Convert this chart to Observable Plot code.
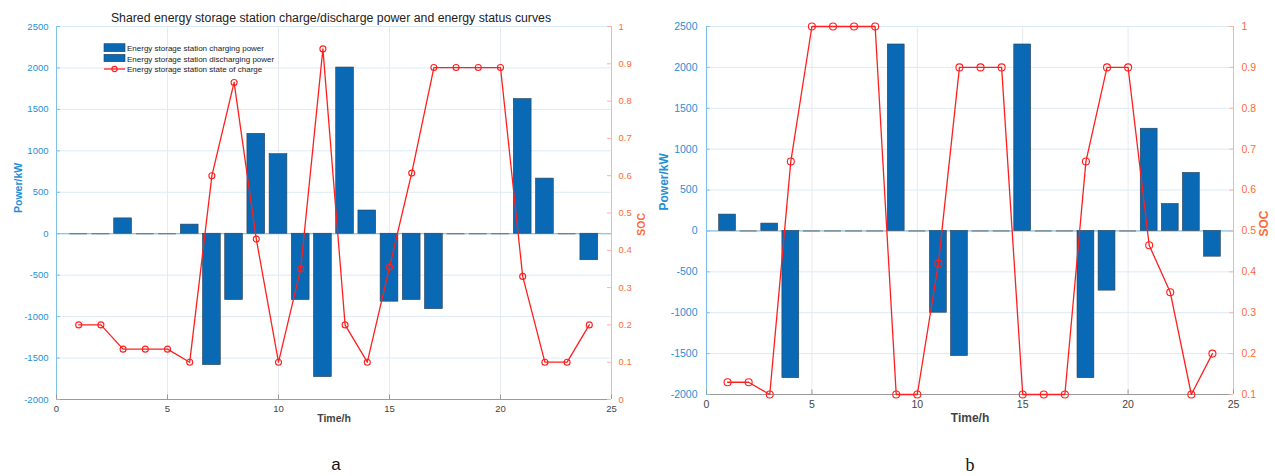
<!DOCTYPE html>
<html><head><meta charset="utf-8">
<script src="https://cdn.jsdelivr.net/npm/d3@7"></script>
<script src="https://cdn.jsdelivr.net/npm/@observablehq/plot@0.6"></script>
<style>
body{margin:0;background:#fff;font-family:"Liberation Sans",Arial,sans-serif;}
#wrap{position:relative;width:1275px;height:476px;overflow:hidden;background:#fff;}
.abs{position:absolute;white-space:nowrap;}
</style></head><body><div id="wrap"></div>
<script>
// ---------- data ----------
const hours = [1,2,3,4,5,6,7,8,9,10,11,12,13,14,15,16,17,18,19,20,21,22,23,24];
const powerA = [0,0,185,0,0,110,-1585,-800,1205,960,-800,-1730,2005,280,-820,-800,-910,0,0,0,1625,665,0,-320];
const socA = [0.2,0.2,0.135,0.135,0.135,0.1,0.6,0.85,0.43,0.1,0.35,0.94,0.2,0.1,0.355,0.607,0.89,0.89,0.89,0.89,0.33,0.1,0.1,0.2];
const powerB = [200,0,90,-1800,0,0,0,0,2280,0,-1000,-1530,0,0,2280,0,0,-1800,-730,0,1250,330,710,-315];
const socB = [0.13,0.13,0.1,0.67,1,1,1,1,0.1,0.1,0.42,0.9,0.9,0.9,0.1,0.1,0.1,0.67,0.9,0.9,0.465,0.35,0.1,0.2];
const xTicks = [0,5,10,15,20,25];
const powerTicks = [-2000,-1500,-1000,-500,0,500,1000,1500,2000,2500];
const socTicksA = [0,0.1,0.2,0.3,0.4,0.5,0.6,0.7,0.8,0.9,1];
const socTicksB = [0.1,0.2,0.3,0.4,0.5,0.6,0.7,0.8,0.9,1];
const titleA = "Shared energy storage station charge/discharge power and energy status curves";
const legendLabels = ["Energy storage station charging power","Energy storage station discharging power","Energy storage station state of charge"];
const xLabel = "Time/h", yLabel = "Power/kW", y2Label = "SOC";

// ---------- style ----------
const BAR = "#0a69b4", EDGE = "#2e3f52", RED = "#ff1f1f";
const BLUE = "#1f8fd6", ORANGE = "#ff6a3a", GRAY = "#444";

function panel(o) {
  const [s0, s1] = o.socDomain;
  const toP = s => -2000 + (s - s0) / (s1 - s0) * 4500;
  const toS = p => s0 + (p + 2000) / 4500 * (s1 - s0);
  const bars = hours.map((h, i) => ({h, p: o.power[i]}));
  const socd = hours.map((h, i) => ({h, s: o.soc[i]}));
  const fmt = v => String(Math.round(toS(v) * 10) / 10);
  return Plot.plot({
    width: o.width, height: o.height,
    marginLeft: o.ml, marginRight: o.mr, marginTop: o.mt, marginBottom: o.mb,
    style: {fontFamily: '"Liberation Sans", Arial, sans-serif', fontSize: o.fs + "px", background: "transparent"},
    x: {domain: [0, 25]},
    y: {domain: [-2000, 2500]},
    marks: [
      Plot.gridY(powerTicks, {stroke: "#dbeaf8", strokeOpacity: 1}),
      Plot.gridX(xTicks, {stroke: "#e5eaf0", strokeOpacity: 1}),
      Plot.ruleY([0], {stroke: "#74b9e6", strokeWidth: 1}),
      Plot.rectY(bars.filter(d => d.p !== 0), {x1: d => d.h - 0.4, x2: d => d.h + 0.4, y1: 0, y2: "p", fill: BAR, stroke: EDGE, strokeWidth: 0.6}),
      Plot.ruleY(bars.filter(d => d.p === 0), {y: "p", x1: d => d.h - 0.4, x2: d => d.h + 0.4, stroke: "#707070", strokeWidth: 1.1}),
      Plot.ruleX([0], {stroke: "#7ec0ec", strokeWidth: 1}),
      Plot.ruleX([25], {stroke: "#ffb39b", strokeWidth: 1}),
      Plot.ruleY([-2000], {stroke: "#9a9a9a", strokeWidth: 1}),
      Plot.ruleY(powerTicks, {x1: 0, x2: 0.18, stroke: "#7ec0ec"}),
      Plot.ruleY(o.socTicks.map(toP), {x1: 24.82, x2: 25, stroke: "#ffb39b"}),
      Plot.ruleX(xTicks, {y1: -2000, y2: -1945, stroke: "#9a9a9a"}),
      Plot.line(socd, {x: "h", y: d => toP(d.s), stroke: RED, strokeWidth: 1.3}),
      Plot.dot(socd, {x: "h", y: d => toP(d.s), r: o.r, stroke: RED, fill: "none", strokeWidth: 1.1}),
      Plot.axisY({ticks: powerTicks, tickSize: 0, tickPadding: o.tpL, tickFormat: d => String(d), color: BLUE, label: null, fontSize: o.fs}),
      Plot.axisY({anchor: "right", ticks: o.socTicks.map(toP), tickSize: 0, tickPadding: o.tpR, tickFormat: fmt, color: ORANGE, label: null, fontSize: o.fs}),
      Plot.axisX({ticks: xTicks, tickSize: 0, tickPadding: o.tpX, tickFormat: d => String(d), color: GRAY, label: null, fontSize: o.fs}),
      Plot.text([yLabel], {text: d => d, frameAnchor: "left", dx: o.yLabDx, rotate: -90, fill: BLUE, fontSize: o.fsL, fontWeight: "bold"}),
      Plot.text([y2Label], {text: d => d, frameAnchor: "right", dx: o.y2LabDx, rotate: -90, fill: ORANGE, fontSize: o.fsL, fontWeight: "bold"}),
      Plot.text([xLabel], {text: d => d, frameAnchor: "bottom", dy: o.xLabDy, fill: GRAY, fontSize: o.fsL, fontWeight: "bold"})
    ]
  });
}

const wrap = document.getElementById("wrap");
const svgA = panel({power: powerA, soc: socA, socDomain: [0, 1], socTicks: socTicksA,
  width: 650, height: 440, ml: 56, mr: 39, mt: 26, mb: 41, fs: 9.5, fsL: 10.5, r: 3,
  tpL: 8, tpR: 7, tpX: 6, yLabDx: -38, y2LabDx: 30, xLabDy: 22});
svgA.style.position = "absolute"; svgA.style.left = "0px"; svgA.style.top = "0px";
wrap.appendChild(svgA);

const svgB = panel({power: powerB, soc: socB, socDomain: [0.1, 1], socTicks: socTicksB,
  width: 625, height: 440, ml: 56, mr: 42, mt: 26, mb: 46, fs: 10.5, fsL: 12, r: 3.5,
  tpL: 9, tpR: 8, tpX: 6, yLabDx: -42, y2LabDx: 31, xLabDy: 27});
svgB.style.position = "absolute"; svgB.style.left = "650px"; svgB.style.top = "0px";
wrap.appendChild(svgB);

function addText(txt, x, y, css) {
  const d = document.createElement("div");
  d.className = "abs"; d.textContent = txt;
  Object.assign(d.style, {left: x + "px", top: y + "px", transform: "translate(-50%,-50%)"}, css || {});
  wrap.appendChild(d);
  return d;
}
addText(titleA, 331, 18, {fontSize: "12.3px", color: "#222"});
addText("a", 336, 465, {fontSize: "17px", color: "#111", fontFamily: '"Liberation Sans", Arial, sans-serif'});
addText("b", 970, 465, {fontSize: "18px", color: "#111", fontFamily: '"Liberation Serif", "DejaVu Serif", serif'});

// legend (panel a)
const leg = document.createElementNS("http://www.w3.org/2000/svg", "svg");
leg.setAttribute("width", "260"); leg.setAttribute("height", "40");
Object.assign(leg.style, {position: "absolute", left: "100px", top: "40px"});
leg.innerHTML =
  `<rect x="4" y="3.7" width="21" height="8" fill="${BAR}" stroke="${EDGE}" stroke-width="0.6"/>` +
  `<rect x="4" y="14.3" width="21" height="7.4" fill="${BAR}" stroke="${EDGE}" stroke-width="0.6"/>` +
  `<line x1="4" x2="25" y1="29" y2="29" stroke="${RED}" stroke-width="1.3"/>` +
  `<circle cx="14.5" cy="29" r="2.6" fill="none" stroke="${RED}" stroke-width="1.1"/>` +
  legendLabels.map((t, i) => `<text x="27" y="${8.3 + i * 10.4}" dy="0.35em" font-size="8px" fill="#222" font-family="Liberation Sans, Arial, sans-serif">${t}</text>`).join("");
wrap.appendChild(leg);
</script></body></html>
